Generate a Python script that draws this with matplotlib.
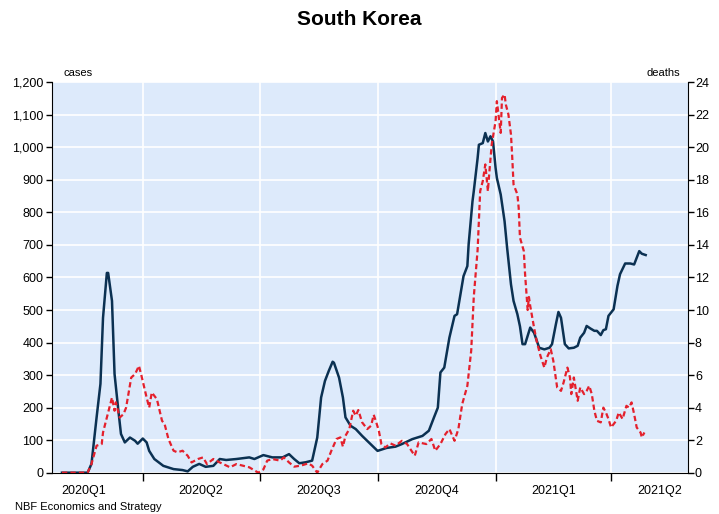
import numpy as np
import matplotlib
matplotlib.use("Agg")
import matplotlib.pyplot as plt
import matplotlib.ticker as mticker

plt.rcParams["font.family"] = ["Liberation Sans", "DejaVu Sans"]

# days counted from 2020-01-01
case_days = [28, 40, 48, 51, 55, 58, 60, 63, 64, 67,
             69, 72, 74, 77, 81, 85, 87, 91, 94, 96,
             100, 107, 115, 122, 126, 130, 135, 140, 146, 151,
             156, 164, 174, 178, 185, 192, 200, 205, 209, 213,
             218, 223, 227, 230, 233, 236, 239, 240, 244, 247,
             249, 253, 257, 262, 268, 274, 281, 288, 293, 301,
             309, 314, 318, 321, 323, 326, 330, 334, 336, 341,
             344, 345, 348, 349, 352, 353, 356, 358, 360, 362,
             364, 366, 367, 370, 373, 375, 378, 380, 383, 385,
             387, 389, 393, 396, 400, 404, 408, 410, 413, 415,
             417, 420, 423, 427, 430, 432, 435, 437, 440, 443,
             445, 448, 450, 452, 454, 458, 461, 463, 467, 471,
             474, 478, 480, 483]
cases = [0, 0, 0, 27, 170, 273, 476, 614, 614, 528,
         303, 190, 119, 93, 108, 98, 89, 105, 93, 67,
         42, 21, 11, 8, 4, 18, 27, 18, 21, 42,
         39, 42, 47, 42, 54, 47, 47, 57, 42, 29,
         32, 37, 108, 231, 282, 313, 341, 338, 292, 231,
         170, 144, 134, 113, 90, 67, 76, 80, 88, 103,
         113, 129, 170, 200, 308, 323, 415, 482, 487, 604,
         635, 702, 834, 865, 967, 1008, 1013, 1044, 1018, 1034,
         1018, 937, 906, 855, 773, 691, 579, 528, 487, 450,
         395, 395, 446, 430, 384, 379, 384, 395, 456, 494,
         476, 395, 382, 384, 390, 415, 430, 451, 443, 436,
         436, 423, 438, 441, 482, 502, 574, 610, 643, 643,
         640, 681, 673, 669]

death_days = [28, 48, 51, 55, 59, 60, 63, 67, 69, 70,
              73, 76, 78, 82, 85, 88, 90, 94, 96, 98,
              102, 106, 108, 111, 115, 118, 122, 126, 129, 134,
              138, 141, 146, 151, 159, 164, 166, 174, 181, 185,
              188, 192, 198, 201, 205, 209, 214, 220, 223, 227,
              231, 235, 238, 242, 245, 247, 249, 252, 255, 257,
              259, 262, 266, 269, 271, 273, 275, 277, 280, 284,
              288, 293, 297, 303, 306, 312, 316, 319, 323, 327,
              330, 334, 337, 340, 344, 347, 349, 352, 354, 356,
              358, 360, 361, 363, 366, 367, 370, 371, 373, 374,
              376, 378, 379, 380, 383, 384, 385, 388, 389, 391,
              392, 393, 396, 398, 401, 404, 406, 409, 411, 414,
              417, 419, 422, 424, 425, 427, 430, 432, 435, 437,
              439, 441, 443, 445, 448, 450, 452, 454, 456, 460,
              462, 465, 468, 470, 472, 474, 476, 479, 480, 482]
deaths = [0, 0, 0.53, 1.66, 1.76, 2.47, 3.39, 4.62, 3.81, 4.32,
          3.39, 3.6, 4.0, 5.85, 6.06, 6.57, 5.95, 4.62, 4.0, 4.93,
          4.52, 3.19, 2.99, 2.07, 1.35, 1.25, 1.35, 1.04, 0.63, 0.84,
          0.94, 0.53, 0.84, 0.63, 0.33, 0.53, 0.49, 0.33, 0, 0.2,
          0.74, 0.84, 0.74, 0.94, 0.63, 0.37, 0.43, 0.57, 0.43, 0,
          0.53, 0.74, 1.35, 2.07, 2.17, 1.6, 2.27, 2.68, 3.81, 3.5,
          3.85, 3.09, 2.68, 2.89, 3.56, 3.09, 2.58, 1.76, 1.55, 1.8,
          1.66, 1.96, 1.76, 1.04, 1.86, 1.76, 2.07, 1.35, 1.76, 2.38,
          2.68, 1.96, 2.68, 4.22, 5.34, 7.5, 10.8, 13.7, 17.31, 17.92,
          18.95, 17.31, 18.34, 20.18, 21.61, 22.84, 20.89, 23.04, 23.25, 22.63,
          22.02, 20.79, 19.36, 17.72, 17.11, 16.29, 14.45, 13.63, 12.2, 10.0,
          10.8, 10.25, 8.92, 8.1, 7.18, 6.46, 7.08, 7.59, 6.88, 5.24,
          5.03, 5.54, 6.46, 5.85, 4.83, 5.85, 4.42, 5.24, 4.83, 5.03,
          5.34, 4.83, 3.81, 3.19, 3.09, 4.0, 3.7, 3.3, 2.78, 3.19,
          3.7, 3.3, 4.11, 4.0, 4.32, 3.6, 2.78, 2.47, 2.17, 2.47]

quarter_starts = ["2020-01-01", "2020-04-01", "2020-07-01", "2020-10-01",
                  "2021-01-01", "2021-04-01", "2021-07-01"]
quarter_labels = ["2020Q1", "2020Q2", "2020Q3", "2020Q4", "2021Q1", "2021Q2"]

origin = np.datetime64("2020-01-01")
case_dates = origin + np.array(case_days).astype("timedelta64[D]")
death_dates = origin + np.array(death_days).astype("timedelta64[D]")
qs = np.array(quarter_starts, dtype="datetime64[D]")
x_start = np.datetime64("2020-01-21")
x_end = np.datetime64("2021-05-31")

fig = plt.figure(figsize=(7.19, 5.14), dpi=100)
ax = fig.add_axes([0.0719, 0.0804, 0.8850, 0.7595])
ax2 = ax.twinx()

navy = "#0B3152"
red = "#E4202C"
ax.set_facecolor("#DDEAFB")

ax.plot(case_dates, cases, color=navy, lw=1.8, zorder=3)
ax2.plot(death_dates, deaths, color=red, lw=1.6, ls=(0, (2.4, 1.4)), zorder=3)

ax.set_xlim(x_start, x_end)
ax.set_ylim(0, 1200)
ax2.set_ylim(0, 24)
ax.set_yticks(range(0, 1201, 100))
ax.yaxis.set_major_formatter(mticker.StrMethodFormatter("{x:,.0f}"))
ax2.set_yticks(range(0, 25, 2))

# quarter boundaries as major ticks, labels centred in the quarter
bounds = qs[1:-1]
ax.set_xticks(bounds)
ax.set_xticklabels([])
mids = qs[:-1] + (qs[1:] - qs[:-1]) // 2
mids[-1] = min(mids[-1], x_end - np.timedelta64(22, "D"))
ax.set_xticks(mids, minor=True)
ax.set_xticklabels(quarter_labels, minor=True)

ax.grid(True, axis="both", which="major", color="white", lw=1.2)
ax.set_axisbelow(True)

ax.tick_params(axis="x", which="major", length=6, width=1, direction="out")
ax.tick_params(axis="x", which="minor", length=0, labelsize=9, pad=9)
ax.tick_params(axis="y", length=4, width=1, labelsize=9, pad=2)
ax2.tick_params(axis="y", length=4, width=1, labelsize=9, pad=1)

for a in (ax, ax2):
    a.spines["top"].set_visible(False)
ax.spines["right"].set_visible(False)
ax2.spines["left"].set_visible(False)
ax2.spines["bottom"].set_visible(False)

fig.text(0.5, 0.962, "South Korea", ha="center", va="center",
         fontsize=15, fontweight="bold")
fig.text(0.088, 0.848, "cases", ha="left", va="bottom", fontsize=8)
fig.text(0.946, 0.848, "deaths", ha="right", va="bottom", fontsize=8)
fig.text(0.021, 0.003, "NBF Economics and Strategy", ha="left", va="bottom",
         fontsize=8)

fig.savefig("out.png", dpi=100)
